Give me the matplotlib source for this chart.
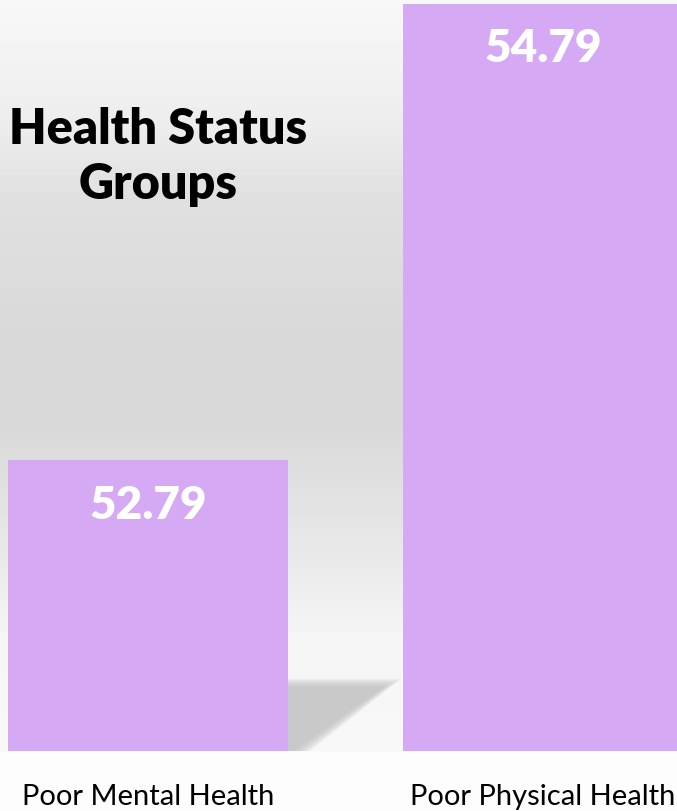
import numpy as np
import matplotlib
matplotlib.use("Agg")
import matplotlib.pyplot as plt
from matplotlib.patches import Polygon

categories = ["Poor Mental Health", "Poor Physical Health"]
values = [52.79, 54.79]
title = "Health Status\nGroups"

bar_color = "#D6A9F4"

fig = plt.figure(figsize=(6.77, 8.12), dpi=100)
fig.patch.set_facecolor("white")

# background gradient (wall)
bg_ax = fig.add_axes([0, 0, 1, 1], zorder=-1)
bg_ax.axis("off")
ys = np.array([0, 130, 200, 330, 430, 550, 640, 752, 755, 812])
cs = np.array([248, 236, 224, 217, 217, 232, 245, 248, 253, 253])
yy = np.arange(812) + 0.5
col = np.interp(yy, ys, cs) / 255.0
img = np.repeat(col[:, None], 2, axis=1)
bg_ax.imshow(img, cmap="gray", vmin=0, vmax=1, aspect="auto",
             extent=[0, 1, 0, 1], origin="upper", interpolation="nearest")
bg_ax.set_xlim(0, 1)
bg_ax.set_ylim(0, 1)

# axes covering the chart area (bars' baseline at the bottom)
ax = fig.add_axes([0, 60 / 812, 1, 752 / 812])
ymin, ymax = 51.514, 54.812
xmin, xmax = -0.375, 1.339
ax.set_xlim(xmin, xmax)
ax.set_ylim(ymin, ymax)
ax.axis("off")
ax.patch.set_alpha(0)

x = np.arange(len(categories))
width = 0.709

# soft shadow cast by the first bar (decorative)
def px(xp, yp):
    return (xmin + (xmax - xmin) * xp / 677.0,
            ymin + (ymax - ymin) * (752 - yp) / 752.0)

n = 12
for i in range(n):
    s = (i / (n - 1)) * 2 - 1   # -1 .. 1
    g = -s * 7
    pts = [px(288, 684 - g * 0.6), px(392 + g * 1.3, 684 - g * 0.6),
           px(300 + g * 1.3, 753), px(288, 753)]
    ax.add_patch(Polygon(pts, closed=True, facecolor="#bdbdbd",
                         edgecolor="none", alpha=0.11, zorder=1))

bars = ax.bar(x, [v - ymin for v in values], bottom=ymin, width=width,
              color=bar_color, edgecolor="none", zorder=3)

font = "Lato"
for xi, v in zip(x, values):
    ax.text(xi, v - 0.252, f"{v:.2f}", ha="center", va="baseline",
            color="white", fontsize=33, fontweight="heavy", family=font,
            zorder=4)

for xi, c in zip(x, categories):
    xf = (xi - xmin) / (xmax - xmin)
    fig.text(xf, 1 - 805 / 812, c, ha="center", va="baseline",
             fontsize=21, family=font, color="black")

fig.text(158 / 677, 1 - 157 / 812, title, ha="center", va="center",
         fontsize=35, fontweight="heavy", family=font, color="black",
         linespacing=1.25)

fig.savefig("out.png", dpi=100)
